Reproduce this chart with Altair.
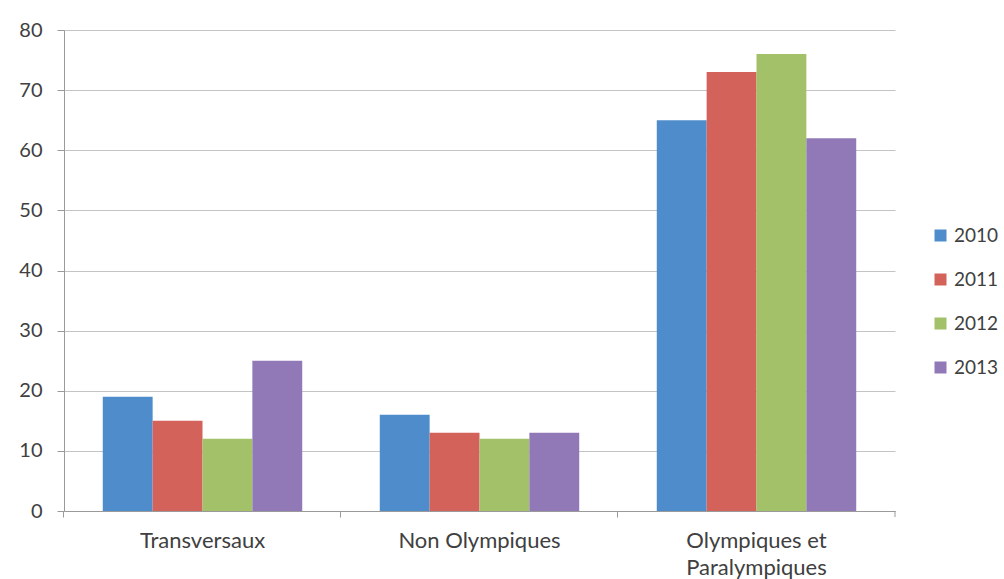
import altair as alt
import pandas as pd

# Bar values per theme and year
categories = ["Transversaux", "Non Olympiques", "Olympiques et Paralympiques"]
years = ["2010", "2011", "2012", "2013"]
values_2010 = [19, 16, 65]
values_2011 = [15, 13, 73]
values_2012 = [12, 12, 76]
values_2013 = [25, 13, 62]
palette = ["#4F8CCB", "#D3625A", "#A2C168", "#9079B6"]

rows = []
for year, series in zip(years, [values_2010, values_2011, values_2012, values_2013]):
    for cat, v in zip(categories, series):
        rows.append({"categorie": cat, "annee": year, "valeur": v})
df = pd.DataFrame(rows)

font = "Lato"
axis_grey = "#9a9a9a"
text_grey = "#404040"

# ticks sit on the category boundaries, labels stay centred on each group
bars = alt.Chart(df).mark_bar().encode(
    x=alt.X(
        "categorie:N",
        sort=categories,
        scale=alt.Scale(paddingInner=0.28, paddingOuter=0.14),
        axis=alt.Axis(
            title=None,
            labelAngle=0,
            bandPosition=-0.1946,
            tickSize=6,
            tickColor=axis_grey,
            domainColor=axis_grey,
            labelPadding=13,
            labelFont=font,
            labelFontSize=22,
            labelColor=text_grey,
            labelLineHeight=27,
            labelExpr="datum.label == 'Olympiques et Paralympiques' ? ['Olympiques et', 'Paralympiques'] : datum.label",
            grid=False,
        ),
    ),
    xOffset=alt.XOffset("annee:N", sort=years),
    y=alt.Y(
        "valeur:Q",
        scale=alt.Scale(domain=[0, 80], nice=False),
        axis=alt.Axis(
            title=None,
            values=[0, 10, 20, 30, 40, 50, 60, 70, 80],
            tickSize=7,
            tickColor=axis_grey,
            domainColor=axis_grey,
            gridColor="#c4c4c4",
            labelPadding=15,
            labelFont=font,
            labelFontSize=20,
            labelColor=text_grey,
        ),
    ),
    color=alt.Color(
        "annee:N",
        sort=years,
        scale=alt.Scale(domain=years, range=palette),
        legend=alt.Legend(
            title=None,
            orient="none",
            legendX=867,
            legendY=196,
            symbolType="square",
            symbolSize=144,
            symbolStrokeWidth=0,
            labelFont=font,
            labelFontSize=19,
            labelColor=text_grey,
            rowPadding=24,
            labelOffset=4,
        ),
    ),
)

# closing tick at the right end of the category axis
end_tick = alt.Chart(pd.DataFrame({"a": [0]})).mark_rule(color=axis_grey).encode(
    x=alt.value(831), y=alt.value(481), y2=alt.value(487)
)

chart = (
    alt.layer(bars, end_tick)
    .properties(width=831, height=481, padding={"left": 64, "top": 30, "right": 109, "bottom": 68})
    .configure(autosize=alt.AutoSizeParams(type="none"))
    .configure_view(stroke=None)
)

chart.save("out.html", embed_options={"renderer": "svg", "actions": False})
